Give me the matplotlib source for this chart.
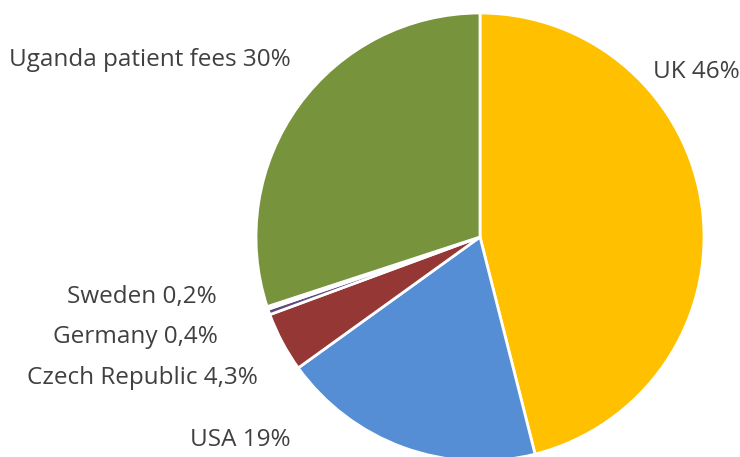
import matplotlib.pyplot as plt

labels = ["UK", "USA", "Czech Republic", "Germany", "Sweden", "Uganda patient fees"]
shares = [46, 19, 4.3, 0.4, 0.2, 30]
share_text = ["46%", "19%", "4,3%", "0,4%", "0,2%", "30%"]
colors = ["#FFC000", "#558ED5", "#953735", "#604A7B", "#31859C", "#77933C"]

W, H = 740, 457
fig = plt.figure(figsize=(W / 100, H / 100), dpi=100)
cx, cy, r = 480, 237, 224
ax = fig.add_axes([(cx - r) / W, (H - cy - r) / H, 2 * r / W, 2 * r / H])
ax.pie(shares, colors=colors, startangle=90, counterclock=False, radius=1,
       wedgeprops=dict(edgecolor="white", linewidth=2))
ax.set_xlim(-1, 1)
ax.set_ylim(-1, 1)
ax.set_aspect("auto")
ax.axis("off")

# label anchor positions in pixels (x, y, horizontal alignment)
pos = [(653, 72, "left"), (291, 440, "right"), (258, 378, "right"),
       (218, 337, "right"), (217, 297, "right"), (291, 60, "right")]
for lab, txt, (px, py, ha) in zip(labels, share_text, pos):
    fig.text(px / W, 1 - py / H, f"{lab} {txt}", ha=ha, va="center",
             fontsize=17.5, color="#404040", family="Open Sans")

fig.savefig("out.png", dpi=100)
